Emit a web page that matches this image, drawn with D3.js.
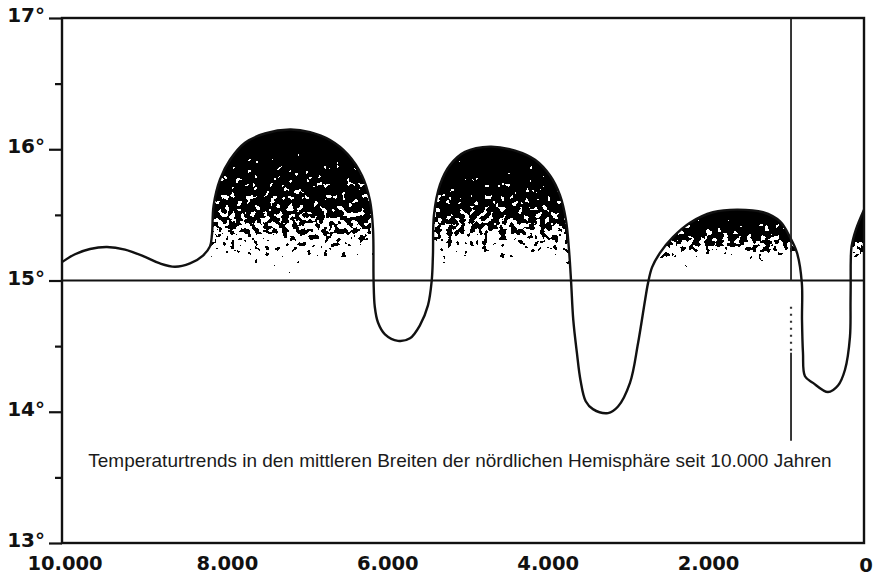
<!DOCTYPE html>
<html>
<head>
<meta charset="utf-8">
<script src="https://cdn.jsdelivr.net/npm/d3@7"></script>
<style>
  body { margin: 0; background: #fff; }
  svg { display: block; }
</style>
</head>
<body>
<svg id="chart" width="880" height="577"></svg>
<script>
// years before present and temperature in °C
const years = [10000, 9838, 9651, 9439, 9214, 8965, 8778, 8591, 8404, 8242, 8155, 8130, 8110, 8030, 7905, 7718, 7469, 7157, 6908, 6658, 6434, 6260, 6160, 6122,
  6115, 6100, 6060, 5973, 5811, 5661, 5536, 5437, 5390, 5375, 5362, 5287, 5162, 4975, 4663, 4351, 4102, 3915, 3791, 3716, 3678,
  3653, 3625, 3580, 3535, 3470, 3380, 3192, 3067, 2918, 2818, 2730, 2693, 2643, 2544, 2382, 2170, 1883, 1584, 1259, 1047, 923, 835,
  775, 773, 761, 736, 636, 449, 324, 237, 175, 168, 166, 165, 155, 100, 0];
const temps = [15.14, 15.2, 15.24, 15.255, 15.235, 15.18, 15.13, 15.105, 15.13, 15.19, 15.26, 15.35, 15.57, 15.77, 15.92, 16.05, 16.12, 16.15, 16.13, 16.07, 15.96, 15.80, 15.61, 15.39,
  15.0, 14.80, 14.68, 14.59, 14.54, 14.56, 14.66, 14.81, 15.0, 15.19, 15.50, 15.73, 15.88, 15.98, 16.02, 15.99, 15.92, 15.80, 15.65, 15.46, 15.23,
  15.0, 14.7, 14.45, 14.24, 14.08, 14.02, 13.99, 14.04, 14.22, 14.52, 14.85, 14.98, 15.10, 15.21, 15.33, 15.44, 15.52, 15.54, 15.52, 15.45, 15.33, 15.21,
  14.98, 14.70, 14.45, 14.27, 14.22, 14.15, 14.20, 14.32, 14.57, 14.83, 14.98, 15.15, 15.26, 15.39, 15.54];

// warm phases (shaded), as [from, to] in years before present
const warmFrom = [8140, 5392, 2700, 170];
const warmTo = [6100, 3650, 770, 0];
// shading: temperature -> grey level (0 = black, 1 = white)
const shadeTemps = [
  [16.15, 15.85, 15.55, 15.4, 15.2, 15.08, 15.0],
  [16.02, 15.75, 15.52, 15.38, 15.2, 15.08, 15.0],
  [15.54, 15.45, 15.35, 15.24, 15.14, 15.06, 15.0],
  [15.54, 15.4, 15.3, 15.22, 15.12, 15.05, 15.0]
];
const shadeGrey = [
  [0.0, 0.2, 0.36, 0.52, 0.76, 0.95, 1],
  [0.0, 0.2, 0.36, 0.52, 0.76, 0.95, 1],
  [0.0, 0.18, 0.34, 0.58, 0.85, 1, 1],
  [0.0, 0.1, 0.3, 0.65, 0.9, 1, 1]
];

const xTickValues = [10000, 8000, 6000, 4000, 2000, 0];
const xTickLabels = ["10.000", "8.000", "6.000", "4.000", "2.000", "0"];
const yTickValues = [13, 14, 15, 16, 17];
const yTickLabels = ["13°", "14°", "15°", "16°", "17°"];
const baseTemp = 15;
const markYear = 910;
const caption = "Temperaturtrends in den mittleren Breiten der nördlichen Hemisphäre seit 10.000 Jahren";

const svg = d3.select("#chart");
const W = 880, H = 577;
svg.append("rect").attr("width", W).attr("height", H).attr("fill", "#fff");

const x = d3.scaleLinear().domain([10000, 0]).range([62, 864]);
const y = d3.scaleLinear().domain([13, 17]).range([543, 18]);

const data = years.map((d, i) => ({ year: d, temp: temps[i] }));
const curve = d3.curveCatmullRom.alpha(0.5);

let defs = svg.append("defs");

// stipple filter: noise added to the grey gradient, then thresholded
let f = defs.append("filter").attr("id", "stip")
  .attr("filterUnits", "userSpaceOnUse")
  .attr("x", 0).attr("y", 0).attr("width", W).attr("height", H)
  .attr("color-interpolation-filters", "sRGB");
f.append("feTurbulence").attr("type", "fractalNoise").attr("baseFrequency", 0.17)
  .attr("numOctaves", 2).attr("seed", 5).attr("result", "n");
f.append("feColorMatrix").attr("in", "n").attr("type", "matrix")
  .attr("values", "1 0 0 0 0  1 0 0 0 0  1 0 0 0 0  0 0 0 0 1").attr("result", "ng");
f.append("feComposite").attr("in", "SourceGraphic").attr("in2", "ng")
  .attr("operator", "arithmetic").attr("k1", 0).attr("k2", 1).attr("k3", 1.3).attr("k4", -0.65)
  .attr("result", "sum");
let ct = f.append("feComponentTransfer").attr("in", "sum").attr("result", "th");
["feFuncR", "feFuncG", "feFuncB"].forEach(fn => {
  ct.append(fn).attr("type", "discrete").attr("tableValues", "0 1");
});
ct.append("feFuncA").attr("type", "linear").attr("slope", 0).attr("intercept", 1);
f.append("feComposite").attr("in", "th").attr("in2", "SourceAlpha").attr("operator", "in");

let area = d3.area()
  .x(d => x(d.year))
  .y0(y(baseTemp))
  .y1(d => y(d.temp))
  .curve(curve);

warmFrom.forEach((from, i) => {
  let g = defs.append("linearGradient").attr("id", "grad" + i)
    .attr("gradientUnits", "userSpaceOnUse")
    .attr("x1", 0).attr("x2", 0)
    .attr("y1", y(shadeTemps[i][0])).attr("y2", y(baseTemp));
  let top = y(shadeTemps[i][0]), span = y(baseTemp) - top;
  shadeTemps[i].forEach((t, j) => {
    let v = Math.round(shadeGrey[i][j] * 255);
    g.append("stop").attr("offset", (y(t) - top) / span)
      .attr("stop-color", `rgb(${v},${v},${v})`);
  });
  defs.append("clipPath").attr("id", "clip" + i)
    .append("rect")
    .attr("x", x(from)).attr("width", x(warmTo[i]) - x(from))
    .attr("y", y(17)).attr("height", y(baseTemp) - y(17));

  svg.append("path")
    .datum(data)
    .attr("d", area)
    .attr("fill", "url(#grad" + i + ")")
    .attr("filter", "url(#stip)")
    .attr("clip-path", "url(#clip" + i + ")");
});

// 15° reference line
svg.append("line")
  .attr("x1", x(10000)).attr("x2", x(0))
  .attr("y1", y(baseTemp)).attr("y2", y(baseTemp))
  .attr("stroke", "#111").attr("stroke-width", 2.2);

// temperature curve
svg.append("path")
  .datum(data)
  .attr("d", d3.line().x(d => x(d.year)).y(d => y(d.temp)).curve(curve))
  .attr("fill", "none")
  .attr("stroke", "#111")
  .attr("stroke-width", 2.4)
  .attr("stroke-linejoin", "round");

// vertical marker line
svg.append("line")
  .attr("x1", x(markYear)).attr("x2", x(markYear))
  .attr("y1", y(17)).attr("y2", y(15))
  .attr("stroke", "#222").attr("stroke-width", 1.8);
svg.append("line")
  .attr("x1", x(markYear)).attr("x2", x(markYear))
  .attr("y1", y(14.8)).attr("y2", y(14.45))
  .attr("stroke", "#333").attr("stroke-width", 2.2)
  .attr("stroke-dasharray", "2,5");
svg.append("line")
  .attr("x1", x(markYear)).attr("x2", x(markYear))
  .attr("y1", y(14.45)).attr("y2", y(13.78))
  .attr("stroke", "#222").attr("stroke-width", 1.8);

// frame
svg.append("rect")
  .attr("x", x(10000)).attr("y", y(17))
  .attr("width", x(0) - x(10000)).attr("height", y(13) - y(17))
  .attr("fill", "none").attr("stroke", "#111").attr("stroke-width", 2.4);

// y axis: half-degree ticks, labels on whole degrees
let yAxis = svg.append("g")
  .attr("transform", `translate(${x(10000)},0)`)
  .call(d3.axisLeft(y).tickValues(d3.range(13, 17.01, 0.5)).tickSize(7).tickFormat(""));
yAxis.select(".domain").remove();
yAxis.selectAll(".tick line").attr("stroke", "#111").attr("stroke-width", 2.2)
  .attr("x2", d => Number.isInteger(d) ? -13 : -7);

svg.append("g").selectAll("text")
  .data(yTickValues)
  .enter()
  .append("text")
  .attr("x", 45)
  .attr("y", d => y(d) + 4)
  .attr("text-anchor", "end")
  .attr("font-family", "DejaVu Sans")
  .attr("font-weight", "bold")
  .attr("font-size", 20)
  .attr("fill", "#111")
  .text((d, i) => yTickLabels[i]);

// x axis labels
svg.append("g").selectAll("text")
  .data(xTickValues)
  .enter()
  .append("text")
  .attr("x", d => x(d) + (d === 10000 ? 3 : d === 0 ? 2 : 5))
  .attr("y", d => d === 0 ? 572 : 570)
  .attr("text-anchor", "middle")
  .attr("font-family", "DejaVu Sans")
  .attr("font-weight", "bold")
  .attr("font-size", 19.5)
  .attr("fill", "#111")
  .text((d, i) => xTickLabels[i]);

// caption
let cap = svg.append("text")
  .attr("x", 460)
  .attr("y", 467)
  .attr("text-anchor", "middle")
  .attr("font-family", "Liberation Sans, Arial, sans-serif")
  .attr("font-size", 15)
  .attr("fill", "#1a1a1a")
  .text(caption);
let len = cap.node().getComputedTextLength();
cap.attr("font-size", 15 * 744 / len);
</script>
</body>
</html>
